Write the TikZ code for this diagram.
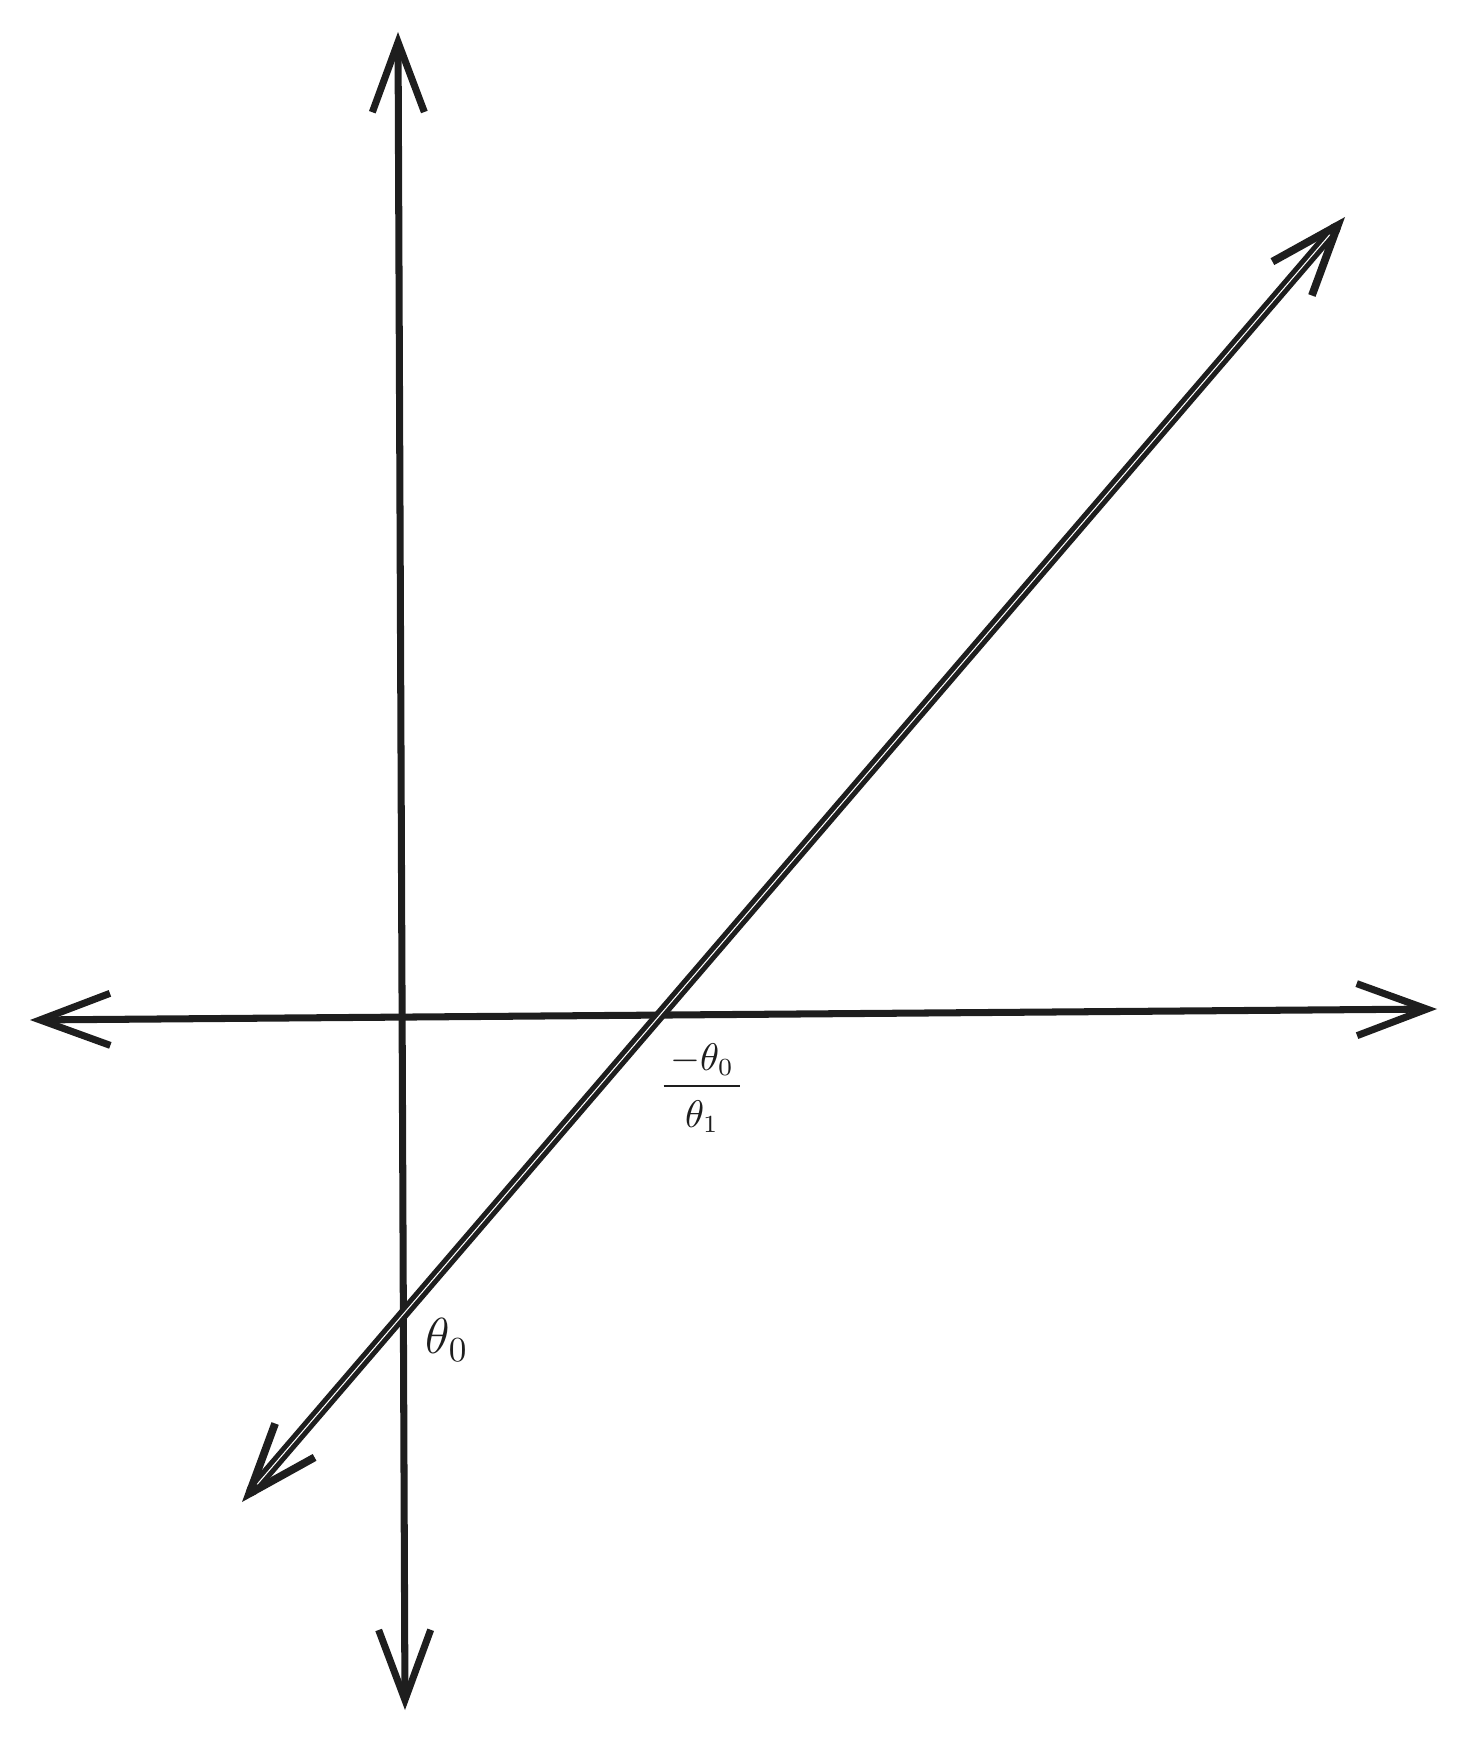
\documentclass[tikz,border=0pt]{standalone}
\usepackage{tikz}
\usetikzlibrary{arrows.meta}
\usepackage{amssymb,latexsym}
\definecolor{ink}{HTML}{1E1E1E}

\begin{document}
\begin{tikzpicture}[x=0.01cm,y=-0.01cm,line cap=round,
  axis/.style={draw=ink,line width=2pt,{Straight Barb[length=0.7cm,width=0.52cm,line width=2pt]}-{Straight Barb[length=0.7cm,width=0.52cm,line width=2pt]}},
  graph/.style={draw=ink,line width=1.45pt,double=white,double distance=0.3pt,{Straight Barb[length=0.7cm,width=0.52cm,line width=2.2pt]}-{Straight Barb[length=0.7cm,width=0.52cm,line width=2.2pt]}},
  lbl/.style={text=ink,inner sep=0pt}]
  \useasboundingbox (0,0) rectangle (1465,1740);
  \coordinate (ytop) at (398,32);
  \coordinate (ybot) at (405,1710);
  \coordinate (xleft) at (30,1020);
  \coordinate (xright) at (1437,1009);
  \coordinate (gtop) at (1345,217);
  \coordinate (gbot) at (242,1502);
  \draw[axis] (ybot) -- (ytop);
  \draw[axis] (xleft) -- (xright);
  \draw[graph] (gbot) -- (gtop);
  \node[lbl,font=\fontsize{15}{18}\selectfont] (root) at (702,1086) {$\frac{\,-\theta_0\,\vphantom{\big|}}{\theta_1\vphantom{\big|}}$};
  \node[lbl,font=\fontsize{14}{17}\selectfont] (icpt) at (447,1340) {$\theta_0$};
\end{tikzpicture}
\end{document}
